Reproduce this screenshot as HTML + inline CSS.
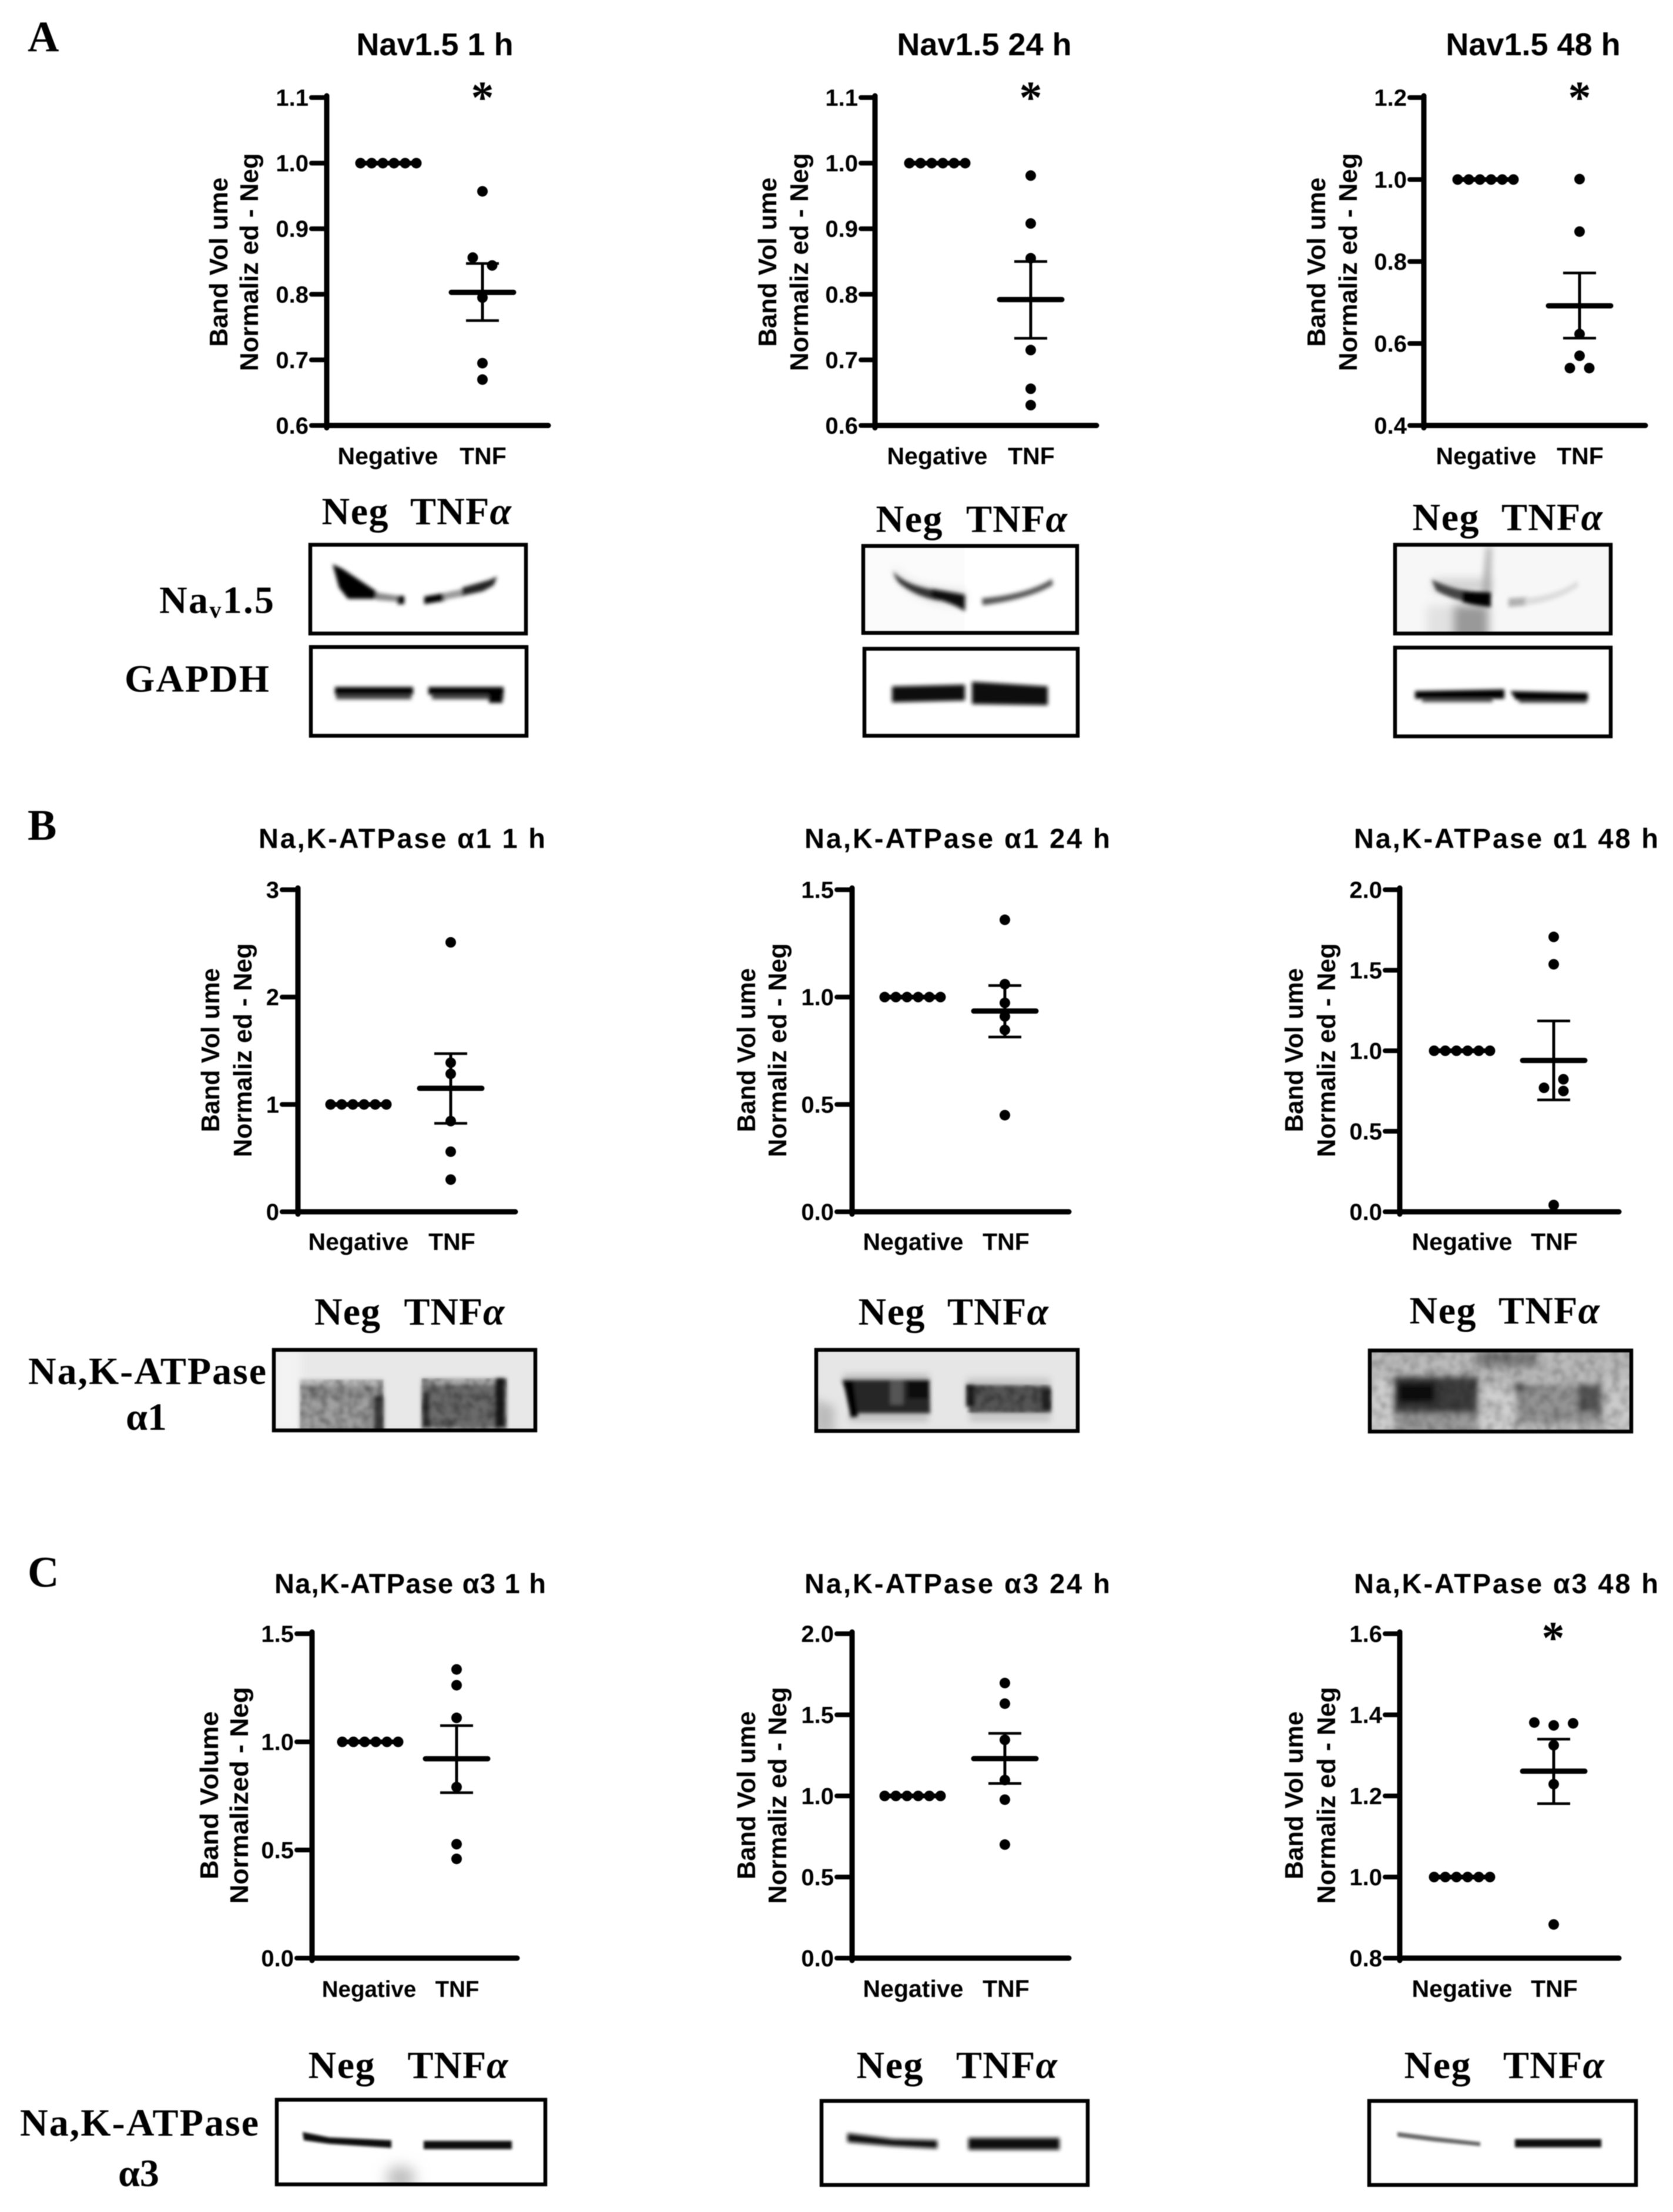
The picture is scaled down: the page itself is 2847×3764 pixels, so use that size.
<!DOCTYPE html>
<html>
<head>
<meta charset="utf-8">
<title>Band volume charts and western blots</title>
<style>
html,body{margin:0;padding:0;background:#fff;}
svg#fig{display:block;filter:blur(0.8px);}
.sans{font-family:"Liberation Sans",sans-serif;font-weight:bold;fill:#000;}
.serif{font-family:"Liberation Serif",serif;font-weight:bold;fill:#000;}
.t-a{font-size:54px;}
.t-b{font-size:47px;}
.yl{font-size:44px;}
.bl{font-size:66px;}
.pl{font-size:74px;}
.star{font-size:78px;}
.frame{fill:none;stroke:#000;stroke-width:6.5;}
</style>
</head>
<body>
<svg id="fig" xmlns="http://www.w3.org/2000/svg" width="2847" height="3764" viewBox="0 0 2847 3764">
<defs>
<filter id="b2" x="-100%" y="-300%" width="300%" height="700%"><feGaussianBlur stdDeviation="2.2"/></filter>
<filter id="b3" x="-100%" y="-300%" width="300%" height="700%"><feGaussianBlur stdDeviation="3.2"/></filter>
<filter id="b4" x="-100%" y="-300%" width="300%" height="700%"><feGaussianBlur stdDeviation="3.5"/></filter>
<filter id="b5" x="-100%" y="-100%" width="300%" height="300%"><feGaussianBlur stdDeviation="5.5"/></filter>
<filter id="b7" x="-100%" y="-100%" width="300%" height="300%"><feGaussianBlur stdDeviation="8"/></filter>
<filter id="b14" x="-100%" y="-100%" width="300%" height="300%"><feGaussianBlur stdDeviation="12"/></filter>
<filter id="mottle" x="0" y="0" width="100%" height="100%"><feTurbulence type="fractalNoise" baseFrequency="0.07" numOctaves="2" seed="4"/><feColorMatrix values="0 0 0 0 0  0 0 0 0 0  0 0 0 0 0  0 0 0 0.8 -0.3"/><feGaussianBlur stdDeviation="2"/></filter>
</defs>
<rect x="0" y="0" width="2847" height="3764" fill="#fff"/>

<text class="serif pl" x="47" y="87">A</text>
<text class="serif pl" x="47" y="1429">B</text>
<text class="serif pl" x="47" y="2700">C</text>

<text class="sans t-a" x="740" y="94" text-anchor="middle">Nav1.5 1 h</text>
<text class="sans t-a" x="1675" y="94" text-anchor="middle">Nav1.5 24 h</text>
<text class="sans t-a" x="2609" y="94" text-anchor="middle">Nav1.5 48 h</text>
<text class="sans t-b" x="684" y="1443" text-anchor="middle" textLength="488">Na,K-ATPase α1 1 h</text>
<text class="sans t-b" x="1629" y="1443" text-anchor="middle" textLength="520">Na,K-ATPase α1 24 h</text>
<text class="sans t-b" x="2563" y="1443" text-anchor="middle" textLength="518">Na,K-ATPase α1 48 h</text>
<text class="sans t-b" x="698" y="2711" text-anchor="middle" textLength="462">Na,K-ATPase α3 1 h</text>
<text class="sans t-b" x="1629" y="2711" text-anchor="middle" textLength="520">Na,K-ATPase α3 24 h</text>
<text class="sans t-b" x="2563" y="2711" text-anchor="middle" textLength="518">Na,K-ATPase α3 48 h</text>

<text class="sans yl" transform="translate(387,446) rotate(-90)" text-anchor="middle" textLength="288" lengthAdjust="spacingAndGlyphs">Band Vol ume</text>
<text class="sans yl" transform="translate(439,446) rotate(-90)" text-anchor="middle" textLength="371" lengthAdjust="spacingAndGlyphs">Normaliz ed - Neg</text>
<text class="sans yl" transform="translate(1321,446) rotate(-90)" text-anchor="middle" textLength="288" lengthAdjust="spacingAndGlyphs">Band Vol ume</text>
<text class="sans yl" transform="translate(1375,446) rotate(-90)" text-anchor="middle" textLength="371" lengthAdjust="spacingAndGlyphs">Normaliz ed - Neg</text>
<text class="sans yl" transform="translate(2255,446) rotate(-90)" text-anchor="middle" textLength="288" lengthAdjust="spacingAndGlyphs">Band Vol ume</text>
<text class="sans yl" transform="translate(2309,446) rotate(-90)" text-anchor="middle" textLength="371" lengthAdjust="spacingAndGlyphs">Normaliz ed - Neg</text>
<text class="sans yl" transform="translate(373,1787) rotate(-90)" text-anchor="middle" textLength="279" lengthAdjust="spacingAndGlyphs">Band Vol ume</text>
<text class="sans yl" transform="translate(428,1787) rotate(-90)" text-anchor="middle" textLength="364" lengthAdjust="spacingAndGlyphs">Normaliz ed - Neg</text>
<text class="sans yl" transform="translate(1285,1787) rotate(-90)" text-anchor="middle" textLength="279" lengthAdjust="spacingAndGlyphs">Band Vol ume</text>
<text class="sans yl" transform="translate(1338,1787) rotate(-90)" text-anchor="middle" textLength="364" lengthAdjust="spacingAndGlyphs">Normaliz ed - Neg</text>
<text class="sans yl" transform="translate(2217,1787) rotate(-90)" text-anchor="middle" textLength="279" lengthAdjust="spacingAndGlyphs">Band Vol ume</text>
<text class="sans yl" transform="translate(2272,1787) rotate(-90)" text-anchor="middle" textLength="364" lengthAdjust="spacingAndGlyphs">Normaliz ed - Neg</text>
<text class="sans yl" transform="translate(371,3055) rotate(-90)" text-anchor="middle" textLength="286" lengthAdjust="spacingAndGlyphs">Band Volume</text>
<text class="sans yl" transform="translate(422,3055) rotate(-90)" text-anchor="middle" textLength="369" lengthAdjust="spacingAndGlyphs">Normalized - Neg</text>
<text class="sans yl" transform="translate(1285,3055) rotate(-90)" text-anchor="middle" textLength="286" lengthAdjust="spacingAndGlyphs">Band Vol ume</text>
<text class="sans yl" transform="translate(1338,3055) rotate(-90)" text-anchor="middle" textLength="369" lengthAdjust="spacingAndGlyphs">Normaliz ed - Neg</text>
<text class="sans yl" transform="translate(2217,3055) rotate(-90)" text-anchor="middle" textLength="286" lengthAdjust="spacingAndGlyphs">Band Vol ume</text>
<text class="sans yl" transform="translate(2272,3055) rotate(-90)" text-anchor="middle" textLength="369" lengthAdjust="spacingAndGlyphs">Normaliz ed - Neg</text>

<text class="serif star" x="821" y="192" text-anchor="middle">*</text>
<text class="serif star" x="1754" y="192" text-anchor="middle">*</text>
<text class="serif star" x="2688" y="192" text-anchor="middle">*</text>
<text class="serif star" x="2643" y="2813" text-anchor="middle">*</text>

<g id="charts"></g>

<!-- Column labels above the blots -->
<text class="serif bl" x="604" y="892" text-anchor="middle" textLength="113">Neg</text>
<text class="serif bl" x="784" y="892" text-anchor="middle" textLength="172">TNF<tspan font-style="italic">α</tspan></text>
<text class="serif bl" x="1547" y="905" text-anchor="middle" textLength="113">Neg</text>
<text class="serif bl" x="1730" y="905" text-anchor="middle" textLength="172">TNF<tspan font-style="italic">α</tspan></text>
<text class="serif bl" x="2460" y="902" text-anchor="middle" textLength="113">Neg</text>
<text class="serif bl" x="2641" y="902" text-anchor="middle" textLength="172">TNF<tspan font-style="italic">α</tspan></text>
<text class="serif bl" x="591" y="2254" text-anchor="middle" textLength="112">Neg</text>
<text class="serif bl" x="773" y="2254" text-anchor="middle" textLength="171">TNF<tspan font-style="italic">α</tspan></text>
<text class="serif bl" x="1517" y="2254" text-anchor="middle" textLength="113">Neg</text>
<text class="serif bl" x="1698" y="2254" text-anchor="middle" textLength="172">TNF<tspan font-style="italic">α</tspan></text>
<text class="serif bl" x="2455" y="2252" text-anchor="middle" textLength="113">Neg</text>
<text class="serif bl" x="2636" y="2252" text-anchor="middle" textLength="172">TNF<tspan font-style="italic">α</tspan></text>
<text class="serif bl" x="581" y="3536" text-anchor="middle" textLength="113">Neg</text>
<text class="serif bl" x="779" y="3536" text-anchor="middle" textLength="171">TNF<tspan font-style="italic">α</tspan></text>
<text class="serif bl" x="1514" y="3536" text-anchor="middle" textLength="113">Neg</text>
<text class="serif bl" x="1713" y="3536" text-anchor="middle" textLength="172">TNF<tspan font-style="italic">α</tspan></text>
<text class="serif bl" x="2446" y="3536" text-anchor="middle" textLength="113">Neg</text>
<text class="serif bl" x="2644" y="3536" text-anchor="middle" textLength="172">TNF<tspan font-style="italic">α</tspan></text>

<!-- Row labels -->
<text class="serif bl" x="271" y="1043" textLength="195">Na<tspan font-size="40" dy="8">v</tspan><tspan dy="-8">1.5</tspan></text>
<text class="serif bl" x="212" y="1177" textLength="246">GAPDH</text>
<text class="serif bl" x="48" y="2355" textLength="405">Na,K-ATPase</text>
<text class="serif bl" x="249" y="2433" text-anchor="middle">α1</text>
<text class="serif bl" x="34" y="3634" textLength="406">Na,K-ATPase</text>
<text class="serif bl" x="236" y="3720" text-anchor="middle">α3</text>

<!-- Nav1.5 blots -->
<g>
<svg x="525" y="924" width="373" height="157" viewBox="525 924 373 157">
<g filter="url(#b3)">
<path fill="#000" d="M566 960L583 968L640 1006L655 1019L592 1019L577 1000Z"/>
<path fill="#888" d="M640 1008L680 1014L680 1024L640 1021Z"/>
<rect x="676" y="1014" width="12" height="14" fill="#000"/>
<path fill="#000" d="M722 1015L758 1009L758 1022L722 1028Z"/>
<path fill="#999" d="M755 1009L792 1001L792 1014L755 1021Z"/>
<path fill="#222" d="M786 1000L832 987L846 981L840 996L822 1006L786 1014Z"/>
</g>
</svg><rect class="frame" x="528" y="927" width="367" height="151"/></g>
<g>
<svg x="526" y="1098" width="373" height="157" viewBox="526 1098 373 157">
<g filter="url(#b3)">
<rect x="572" y="1178" width="128" height="12" fill="#444"/><rect x="570" y="1169" width="133" height="13" fill="#000"/>
<rect x="735" y="1178" width="122" height="12" fill="#444"/><rect x="729" y="1169" width="128" height="13" fill="#000"/>
<rect x="832" y="1172" width="23" height="24" fill="#000"/>
</g>
</svg><rect class="frame" x="529" y="1101" width="367" height="151"/></g>

<g>
<svg x="1466" y="926" width="370" height="154" viewBox="1466 926 370 154">
<rect x="1466" y="926" width="176" height="154" fill="#fbfbfb"/>
<path d="M1520 960C1540 995 1570 1000 1642 1005L1642 1030C1590 1030 1530 1010 1520 960Z" fill="#ddd" filter="url(#b7)"/>
<g filter="url(#b4)"><path fill="#333" d="M1520 972C1540 995 1570 1000 1600 1006L1600 1022C1570 1018 1545 1005 1530 992C1524 985 1522 980 1520 972Z"/><path fill="#080808" d="M1585 1002L1642 1012L1642 1040C1620 1025 1600 1022 1585 1016Z"/><path fill="#555" d="M1671 1018C1710 1015 1760 1005 1790 985L1792 995C1760 1015 1710 1025 1672 1030Z"/></g>
</svg><rect class="frame" x="1469" y="929" width="364" height="148"/></g>
<g>
<svg x="1468" y="1101" width="369" height="154" viewBox="1468 1101 369 154">
<g filter="url(#b4)" fill="#0a0a0a"><path d="M1518 1168L1642 1165L1642 1192L1518 1195Z"/><path d="M1654 1160L1783 1168L1783 1200L1654 1198Z"/></g>
</svg><rect class="frame" x="1471" y="1104" width="363" height="148"/></g>

<g>
<svg x="2371" y="924" width="373" height="157" viewBox="2371 924 373 157">
<rect x="2371" y="924" width="373" height="157" fill="#f7f7f7"/>
<rect x="2428" y="1030" width="46" height="60" fill="#e2e2e2" filter="url(#b7)"/>
<rect x="2473" y="1030" width="60" height="60" fill="#999" filter="url(#b7)"/>
<rect x="2440" y="985" width="97" height="22" fill="#d0d0d0" filter="url(#b7)"/>
<path d="M2530 930L2538 930L2536 1015L2522 1015Z" fill="#aaa" filter="url(#b5)"/>
<g filter="url(#b3)">
<path fill="#444" d="M2436 986C2470 1002 2490 1004 2505 1006L2505 1026C2480 1022 2460 1014 2444 1005Z"/>
<path fill="#000" d="M2488 1006L2537 1008L2537 1033C2510 1030 2500 1028 2488 1024Z"/>
</g>
<g filter="url(#b4)">
<path fill="#b0b0b0" d="M2567 1018L2600 1016L2600 1030L2567 1033Z"/>
<path fill="#dcdcdc" d="M2595 1018C2630 1014 2660 1006 2684 988L2686 998C2660 1016 2630 1026 2595 1030Z"/>
</g>
</svg><rect class="frame" x="2374" y="927" width="367" height="151"/></g>
<g>
<svg x="2371" y="1099" width="373" height="157" viewBox="2371 1099 373 157">
<g filter="url(#b3)">
<rect x="2420" y="1184" width="120" height="11" fill="#555"/><path fill="#000" d="M2408 1176L2560 1173L2560 1189L2408 1189Z"/>
<rect x="2585" y="1187" width="115" height="9" fill="#444"/><path fill="#000" d="M2570 1176L2702 1179L2702 1192L2580 1191Z"/>
</g>
</svg><rect class="frame" x="2374" y="1102" width="367" height="151"/></g>

<!-- alpha1 blots -->
<g>
<svg x="463" y="2294" width="451" height="143" viewBox="463 2294 451 143">
<rect x="463" y="2294" width="451" height="143" fill="#e8e8e8"/>
<rect x="463" y="2294" width="50" height="143" fill="#f3f3f3" filter="url(#b7)"/>
<g filter="url(#b3)">
<rect x="510" y="2347" width="143" height="90" fill="#b8b8b8"/>
<rect x="512" y="2358" width="140" height="79" fill="#8e8e8e"/>
<rect x="517" y="2380" width="110" height="57" fill="#a0a0a0"/>
<rect x="636" y="2375" width="17" height="62" fill="#3a3a3a"/>
<rect x="717" y="2345" width="146" height="90" fill="#a8a8a8"/>
<rect x="718" y="2356" width="142" height="74" fill="#6a6a6a"/>
<rect x="842" y="2345" width="19" height="85" fill="#1c1c1c"/>
<rect x="718" y="2368" width="13" height="62" fill="#333"/>
</g>
<rect x="510" y="2347" width="143" height="90" filter="url(#mottle)"/>
<rect x="717" y="2345" width="146" height="90" filter="url(#mottle)"/>
</svg><rect class="frame" x="466" y="2297" width="445" height="137"/></g>
<g>
<svg x="1386" y="2294" width="451" height="144" viewBox="1386 2294 451 144">
<rect x="1386" y="2294" width="451" height="144" fill="#e6e6e6"/>
<path d="M1386 2380L1420 2394L1420 2438L1386 2438Z" fill="#bbb" filter="url(#b7)"/>
<g filter="url(#b5)"><rect x="1435" y="2338" width="146" height="14" fill="#bdbdbd"/><rect x="1645" y="2345" width="142" height="12" fill="#c4c4c4"/><rect x="1445" y="2405" width="135" height="14" fill="#c0c0c0"/><rect x="1650" y="2405" width="138" height="14" fill="#c4c4c4"/></g>
<g filter="url(#b3)">
<path fill="#262626" d="M1433 2348L1582 2348L1583 2405L1450 2405Z"/>
<path fill="#000" d="M1435 2350L1452 2350L1460 2410L1448 2412Z"/>
<rect x="1515" y="2350" width="22" height="40" fill="#555"/>
<rect x="1545" y="2350" width="35" height="30" fill="#111"/>
<path fill="#555" d="M1644 2356L1788 2358L1789 2404L1650 2404Z"/>
<rect x="1644" y="2356" width="15" height="38" fill="#1a1a1a"/>
<rect x="1772" y="2364" width="17" height="36" fill="#222"/>
</g>
<rect x="1644" y="2356" width="145" height="48" filter="url(#mottle)"/>
</svg><rect class="frame" x="1389" y="2297" width="445" height="138"/></g>
<g>
<svg x="2328" y="2295" width="451" height="144" viewBox="2328 2295 451 144">
<rect x="2328" y="2295" width="451" height="144" fill="#bababa"/>
<rect x="2512" y="2300" width="103" height="25" fill="#747474" filter="url(#b7)"/>
<g filter="url(#b5)">
<rect x="2328" y="2345" width="40" height="94" fill="#cdcdcd"/>
<rect x="2735" y="2345" width="44" height="94" fill="#cacaca"/>
<rect x="2520" y="2358" width="56" height="82" fill="#cfcfcf"/>
<rect x="2375" y="2400" width="140" height="40" fill="#999"/>
<rect x="2372" y="2343" width="143" height="62" fill="#3e3e3e"/>
<rect x="2378" y="2352" width="65" height="36" fill="#0a0a0a"/>
<rect x="2580" y="2356" width="146" height="66" fill="#949494"/>
<rect x="2685" y="2357" width="40" height="46" fill="#555"/>
<rect x="2575" y="2353" width="20" height="17" fill="#555"/>
</g>
<rect x="2328" y="2295" width="451" height="144" filter="url(#mottle)" opacity="0.6"/>
</svg><rect class="frame" x="2331" y="2298" width="445" height="138"/></g>

<!-- alpha3 blots -->
<g>
<svg x="468" y="3570" width="463" height="150" viewBox="468 3570 463 150">
<ellipse cx="682" cy="3706" rx="25" ry="20" fill="#bbb" filter="url(#b14)"/>
<g filter="url(#b2)" fill="#0c0c0c"><path d="M515 3628L560 3637L666 3642L666 3655L560 3648L517 3642Z"/><rect x="721" y="3643" width="150" height="14"/></g>
</svg><rect class="frame" x="471" y="3573" width="457" height="144"/></g>
<g>
<svg x="1395" y="3572" width="459" height="149" viewBox="1395 3572 459 149">
<g filter="url(#b4)" fill="#0c0c0c"><path d="M1442 3630L1520 3640L1595 3642L1595 3656L1520 3652L1442 3645Z"/><rect x="1648" y="3638" width="155" height="20"/></g>
</svg><rect class="frame" x="1398" y="3575" width="453" height="143"/></g>
<g>
<svg x="2327" y="3572" width="460" height="149" viewBox="2327 3572 460 149">
<g filter="url(#b2)"><path fill="#666" d="M2378 3628L2440 3636L2519 3645L2519 3652L2440 3644L2378 3636Z"/><rect x="2578" y="3640" width="147" height="14" fill="#111"/></g>
</svg><rect class="frame" x="2330" y="3575" width="454" height="143"/></g>
</svg>

<script>
// Chart data
const categories = ['Negative', 'TNF'];

const nav1hTicks = ['0.6', '0.7', '0.8', '0.9', '1.0', '1.1'];
const nav1hNeg = [1, 1, 1, 1, 1, 1];
const nav1hTnf = [0.957, 0.856, 0.844, 0.795, 0.695, 0.67];
const nav1hSwarm = [0, -1, 1, 0, 0, 0];
const nav1hStats = [0.803, 0.847, 0.76];

const nav24hTicks = ['0.6', '0.7', '0.8', '0.9', '1.0', '1.1'];
const nav24hNeg = [1, 1, 1, 1, 1, 1];
const nav24hTnf = [0.981, 0.908, 0.855, 0.715, 0.656, 0.631];
const nav24hSwarm = [0, 0, 0, 0, 0, 0];
const nav24hStats = [0.792, 0.85, 0.733];

const nav48hTicks = ['0.4', '0.6', '0.8', '1.0', '1.2'];
const nav48hNeg = [1, 1, 1, 1, 1, 1];
const nav48hTnf = [1.001, 0.873, 0.623, 0.57, 0.54, 0.54];
const nav48hSwarm = [0, 0, 0, 0, -1, 1];
const nav48hStats = [0.692, 0.772, 0.613];

const a11hTicks = ['0', '1', '2', '3'];
const a11hNeg = [1, 1, 1, 1, 1, 1];
const a11hTnf = [2.51, 1.389, 1.285, 0.845, 0.56, 0.3];
const a11hSwarm = [0, 0, 0, 0, 0, 0];
const a11hStats = [1.15, 1.473, 0.824];

const a124hTicks = ['0.0', '0.5', '1.0', '1.5'];
const a124hNeg = [1, 1, 1, 1, 1, 1];
const a124hTnf = [1.36, 1.06, 0.973, 0.91, 0.847, 0.45];
const a124hSwarm = [0, 0, 0, 0, 0, 0];
const a124hStats = [0.935, 1.054, 0.814];

const a148hTicks = ['0.0', '0.5', '1.0', '1.5', '2.0'];
const a148hNeg = [1, 1, 1, 1, 1, 1];
const a148hTnf = [1.707, 1.537, 0.823, 0.77, 0.75, 0.042];
const a148hSwarm = [0, 0, 1, -1, 1, 0];
const a148hStats = [0.94, 1.185, 0.695];

const a31hTicks = ['0.0', '0.5', '1.0', '1.5'];
const a31hNeg = [1, 1, 1, 1, 1, 1];
const a31hTnf = [1.335, 1.262, 1.111, 0.791, 0.527, 0.459];
const a31hSwarm = [0, 0, 0, 0, 0, 0];
const a31hStats = [0.922, 1.075, 0.765];

const a324hTicks = ['0.0', '0.5', '1.0', '1.5', '2.0'];
const a324hNeg = [1, 1, 1, 1, 1, 1];
const a324hTnf = [1.696, 1.569, 1.346, 1.098, 0.977, 0.7];
const a324hSwarm = [0, 0, 0, 0, 0, 0];
const a324hStats = [1.23, 1.386, 1.077];

const a348hTicks = ['0.8', '1.0', '1.2', '1.4', '1.6'];
const a348hNeg = [1, 1, 1, 1, 1, 1];
const a348hTnf = [1.381, 1.374, 1.379, 1.325, 1.229, 0.883];
const a348hSwarm = [-2, 0, 2, 0, 0, 0];
const a348hStats = [1.261, 1.34, 1.181];

// Panel geometry (layout only) combined with the data arrays above
const panels = [
  {id:'nav-1h', ticks:nav1hTicks, neg:nav1hNeg, tnf:nav1hTnf, swarm:nav1hSwarm, stats:nav1hStats, axisX:556, rightX:933, tickX:530, top:166, bottom:724, negX:661, tnfX:821, negLabelX:660, tnfLabelX:822, labelY:790, labelSize:41},
  {id:'nav-24h', ticks:nav24hTicks, neg:nav24hNeg, tnf:nav24hTnf, swarm:nav24hSwarm, stats:nav24hStats, axisX:1489, rightX:1866, tickX:1465, top:166, bottom:724, negX:1595, tnfX:1754, negLabelX:1595, tnfLabelX:1755, labelY:790, labelSize:41},
  {id:'nav-48h', ticks:nav48hTicks, neg:nav48hNeg, tnf:nav48hTnf, swarm:nav48hSwarm, stats:nav48hStats, axisX:2423, rightX:2800, tickX:2399, top:166, bottom:724, negX:2528, tnfX:2688, negLabelX:2529, tnfLabelX:2689, labelY:790, labelSize:41},
  {id:'a1-1h', ticks:a11hTicks, neg:a11hNeg, tnf:a11hTnf, swarm:a11hSwarm, stats:a11hStats, axisX:507, rightX:877, tickX:480, top:1514, bottom:2062, negX:610, tnfX:767, negLabelX:610, tnfLabelX:769, labelY:2127, labelSize:41},
  {id:'a1-24h', ticks:a124hTicks, neg:a124hNeg, tnf:a124hTnf, swarm:a124hSwarm, stats:a124hStats, axisX:1450, rightX:1819, tickX:1424, top:1514, bottom:2062, negX:1553, tnfX:1710, negLabelX:1554, tnfLabelX:1712, labelY:2127, labelSize:41},
  {id:'a1-48h', ticks:a148hTicks, neg:a148hNeg, tnf:a148hTnf, swarm:a148hSwarm, stats:a148hStats, axisX:2382, rightX:2755, tickX:2357, top:1514, bottom:2062, negX:2488, tnfX:2644, negLabelX:2488, tnfLabelX:2645, labelY:2127, labelSize:41},
  {id:'a3-1h', ticks:a31hTicks, neg:a31hNeg, tnf:a31hTnf, swarm:a31hSwarm, stats:a31hStats, axisX:531, rightX:880, tickX:505, top:2780, bottom:3332, negX:630, tnfX:777, negLabelX:628, tnfLabelX:778, labelY:3398, labelSize:38.5},
  {id:'a3-24h', ticks:a324hTicks, neg:a324hNeg, tnf:a324hTnf, swarm:a324hSwarm, stats:a324hStats, axisX:1450, rightX:1819, tickX:1424, top:2780, bottom:3332, negX:1553, tnfX:1710, negLabelX:1554, tnfLabelX:1712, labelY:3398, labelSize:41},
  {id:'a3-48h', ticks:a348hTicks, neg:a348hNeg, tnf:a348hTnf, swarm:a348hSwarm, stats:a348hStats, axisX:2382, rightX:2755, tickX:2357, top:2780, bottom:3332, negX:2488, tnfX:2644, negLabelX:2488, tnfLabelX:2645, labelY:3398, labelSize:41}
];

const SVGNS = 'http://www.w3.org/2000/svg';
const root = document.getElementById('charts');

function make(tag, attrs, parent) {
  const el = document.createElementNS(SVGNS, tag);
  for (const k in attrs) el.setAttribute(k, attrs[k]);
  parent.appendChild(el);
  return el;
}

function yScale(p) {
  const lo = parseFloat(p.ticks[0]);
  const hi = parseFloat(p.ticks[p.ticks.length - 1]);
  return v => p.bottom - (v - lo) / (hi - lo) * (p.bottom - p.top);
}

const NEG_SPACING = 19;
const SWARM_STEP = 16.5;
const DOT_R = 9;
const MEAN_HALF = 53;
const CAP_HALF = 28;

panels.forEach(p => {
  const y = yScale(p);
  const g = make('g', {}, root);
  
  

  const yAxis = make('line', {x1:p.axisX, x2:p.axisX, y1:p.top - 3, y2:p.bottom + 4, stroke:'#000', 'stroke-width':9, 'stroke-linecap':'round'}, g);
  
  

  const xAxis = make('line', {x1:p.axisX, x2:p.rightX, y1:p.bottom, y2:p.bottom, stroke:'#000', 'stroke-width':9, 'stroke-linecap':'round'}, g);
  
  

  p.ticks.forEach(label => {
    const ty = y(parseFloat(label));
    const tick = make('line', {x1:p.tickX, x2:p.axisX, y1:ty, y2:ty, stroke:'#000', 'stroke-width':8, 'stroke-linecap':'round'}, g);
    
    
    const txt = make('text', {x:p.tickX - 5, y:ty + 14, 'text-anchor':'end', 'class':'sans', 'font-size':40}, g);
    
    
    txt.textContent = label;
  });

  const negLabel = make('text', {x:p.negLabelX, y:p.labelY, 'text-anchor':'middle', 'class':'sans', 'font-size':p.labelSize}, g);
  
  
  negLabel.textContent = categories[0];

  const tnfLabel = make('text', {x:p.tnfLabelX, y:p.labelY, 'text-anchor':'middle', 'class':'sans', 'font-size':p.labelSize}, g);
  
  
  tnfLabel.textContent = categories[1];

  const negMean = p.neg.reduce((a, b) => a + b, 0) / p.neg.length;
  const negBar = make('line', {x1:p.negX - 50, x2:p.negX + 50, y1:y(negMean), y2:y(negMean), stroke:'#000', 'stroke-width':8}, g);
  
  

  p.neg.forEach((v, i) => {
    const dot = make('circle', {cx:p.negX + (i - (p.neg.length - 1) / 2) * NEG_SPACING, cy:y(v), r:DOT_R, fill:'#000'}, g);
    
    
  });

  p.tnf.forEach((v, i) => {
    const dot = make('circle', {cx:p.tnfX + p.swarm[i] * SWARM_STEP, cy:y(v), r:DOT_R, fill:'#000'}, g);
    
    
  });

  const mean = p.stats[0], upper = p.stats[1], lower = p.stats[2];
  const stem = make('line', {x1:p.tnfX, x2:p.tnfX, y1:y(upper), y2:y(lower), stroke:'#000', 'stroke-width':5}, g);
  
  
  const capTop = make('line', {x1:p.tnfX - CAP_HALF, x2:p.tnfX + CAP_HALF, y1:y(upper), y2:y(upper), stroke:'#000', 'stroke-width':4.5}, g);
  
  
  const capLow = make('line', {x1:p.tnfX - CAP_HALF, x2:p.tnfX + CAP_HALF, y1:y(lower), y2:y(lower), stroke:'#000', 'stroke-width':4.5}, g);
  
  
  const meanBar = make('line', {x1:p.tnfX - MEAN_HALF, x2:p.tnfX + MEAN_HALF, y1:y(mean), y2:y(mean), stroke:'#000', 'stroke-width':9, 'stroke-linecap':'round'}, g);
  
  
});
</script>
</body>
</html>
